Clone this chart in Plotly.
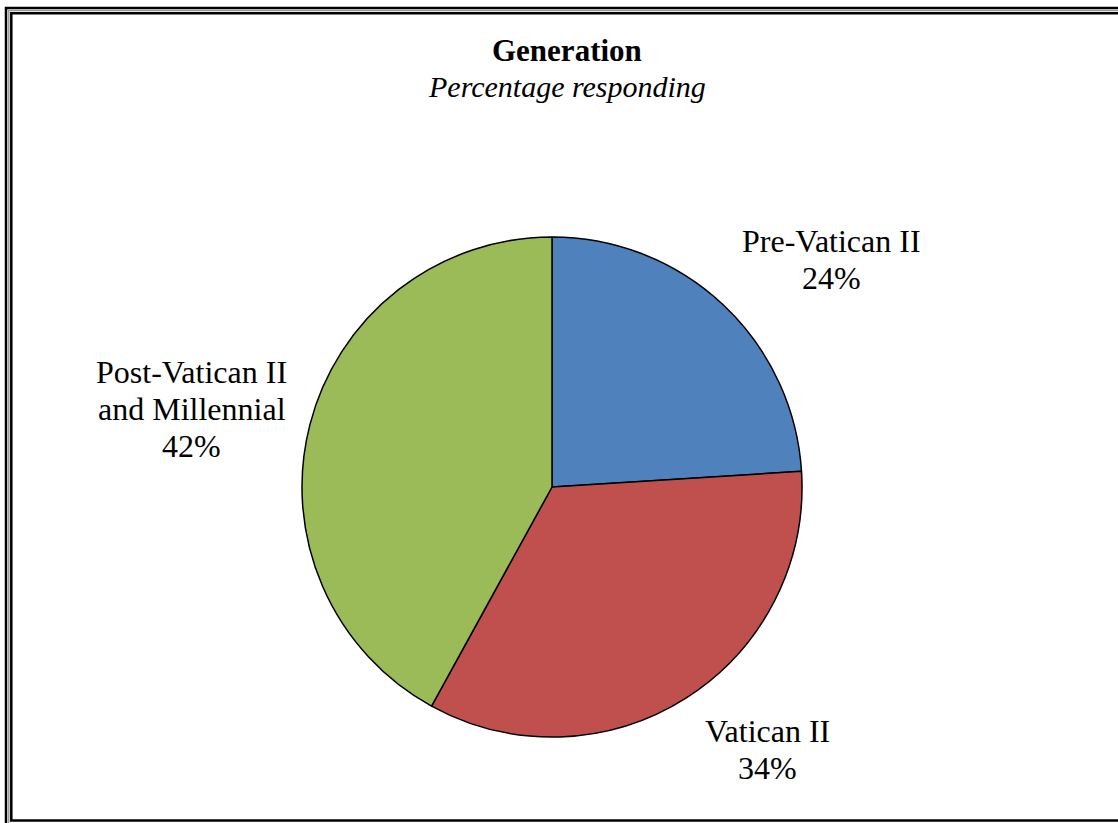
import plotly.graph_objects as go

# Generation breakdown
categories = ["Pre-Vatican II", "Vatican II", "Post-Vatican II and Millennial"]
label_lines = [["Pre-Vatican II"], ["Vatican II"], ["Post-Vatican II", "and Millennial"]]
percentages = [24, 34, 42]
colors = ["#4F81BD", "#C0504D", "#9BBB59"]

W, H = 1118, 823
FONT = "Liberation Serif, Times New Roman, serif"
LINE_GAP = 37


def px(x):
    return x / W


def py(y):
    return 1 - y / H


fig = go.Figure(
    go.Pie(
        labels=categories,
        values=percentages,
        sort=False,
        direction="clockwise",
        rotation=0,
        marker=dict(colors=colors, line=dict(color="black", width=1.5)),
        textinfo="none",
        hoverinfo="label+percent",
        showlegend=False,
        domain=dict(x=[px(302), px(802)], y=[py(737), py(237)]),
    )
)

# Slice labels placed around the pie, one annotation per text line
label_top = [(831, 241), (767, 731), (192, 372)]
annotations = []
for lines, val, (lx, ly) in zip(label_lines, percentages, label_top):
    for i, line in enumerate(lines + [f"{val}%"]):
        annotations.append(
            dict(
                x=px(lx), y=py(ly + i * LINE_GAP), xref="paper", yref="paper",
                text=line, showarrow=False,
                xanchor="center", yanchor="middle", align="center",
                font=dict(family=FONT, size=32, color="black"),
            )
        )

# Title and subtitle
annotations.append(
    dict(x=px(567), y=py(50), xref="paper", yref="paper", text="<b>Generation</b>",
         showarrow=False, xanchor="center", yanchor="middle",
         font=dict(family=FONT, size=31, color="black"))
)
annotations.append(
    dict(x=px(567), y=py(86), xref="paper", yref="paper", text="<i>Percentage responding</i>",
         showarrow=False, xanchor="center", yanchor="middle",
         font=dict(family=FONT, size=30, color="black"))
)

# Double frame around the chart
shapes = [
    dict(type="rect", xref="paper", yref="paper",
         x0=px(6), y0=py(8), x1=px(1130), y1=py(835),
         line=dict(color="black", width=2.5)),
    dict(type="rect", xref="paper", yref="paper",
         x0=px(8.8), y0=py(10.6), x1=px(1126), y1=py(830),
         line=dict(color="#9a9a9a", width=1.5)),
    dict(type="rect", xref="paper", yref="paper",
         x0=px(11.3), y0=py(13.2), x1=px(1122), y1=py(820.5),
         line=dict(color="black", width=2.5)),
]

fig.update_layout(
    width=W, height=H,
    margin=dict(l=0, r=0, t=0, b=0),
    paper_bgcolor="white", plot_bgcolor="white",
    annotations=annotations,
    shapes=shapes,
)

fig.write_html("out.html")
